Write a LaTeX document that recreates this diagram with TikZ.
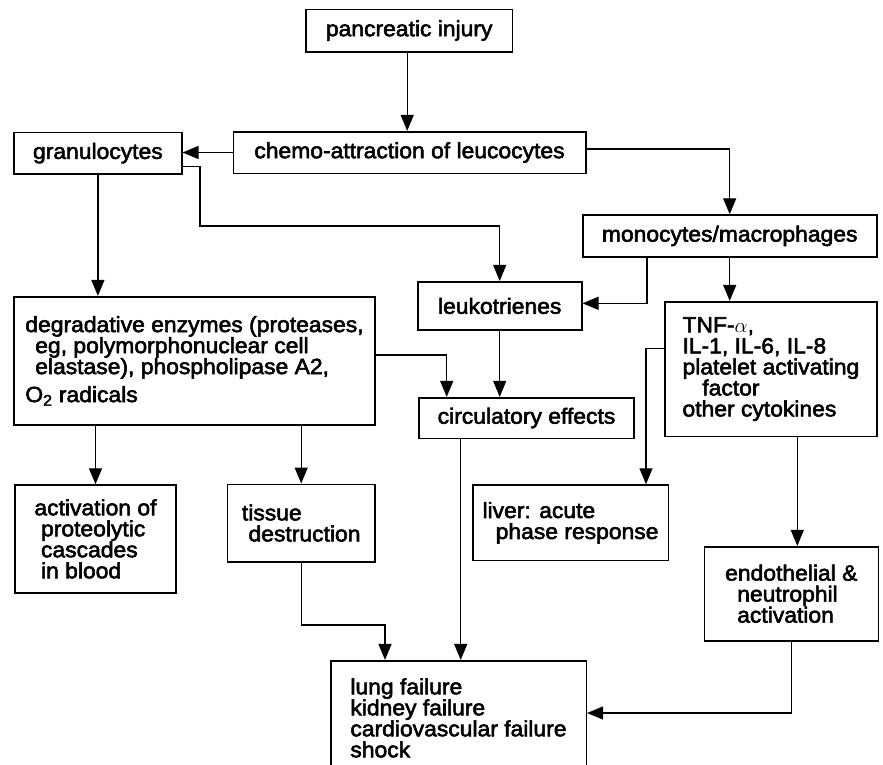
\documentclass[tikz,border=0pt]{standalone}
\usepackage{fontspec}
\setmainfont[FakeStretch=1.04,FakeBold=2.5]{Liberation Sans}
\usetikzlibrary{arrows.meta}
\begin{document}
\begin{tikzpicture}[x=1pt,y=-1pt,
  box/.style={draw, line width=1.6pt, inner sep=0pt, align=left, font=\fontsize{22}{21}\selectfont},
  conn/.style={line width=1.3pt},
  arr/.style={conn, -{Triangle[length=16pt,width=13pt]}}]
\useasboundingbox (0,0) rectangle (883,764);
\clip (0,0) rectangle (883,764);
\fill[white] (0,0) rectangle (883,764);

\node[box, minimum width=206.3pt, minimum height=42.4pt] (panc) at (409.2,30.5) {pancreatic injury};
\node[box, minimum width=352.4pt, minimum height=41.6pt] (chemo) at (409.5,152.5) {chemo-attraction of leucocytes};
\node[box, minimum width=167.7pt, minimum height=41.7pt] (gran) at (97.9,153.2) {granulocytes};
\node[box, minimum width=294pt, minimum height=41.7pt] (mono) at (729.7,235.9) {monocytes/macrophages};
\node[box, minimum width=164pt, minimum height=48.3pt] (leuk) at (499.7,305.9) {leukotrienes};
\node[box, minimum width=361pt, minimum height=128.3pt] (degr) at (194.5,360.9) {degradative enzymes (proteases,\\\hspace{0.45em}eg, polymorphonuclear cell\\\hspace{0.45em}elastase), phospholipase A2,\\[7pt]O\textsubscript{2} radicals};
\node[box, minimum width=211.7pt, minimum height=134.8pt] (tnf) at (770.9,369.1) {TNF-$\alpha$,\\IL-1, IL-6, IL-8\\platelet activating\\\hspace{0.9em}factor\\other cytokines};
\node[box, minimum width=215pt, minimum height=40.6pt] (circ) at (526.5,418) {circulatory effects};
\node[box, minimum width=161pt, minimum height=107.7pt] (act) at (95.5,538.9) {activation of\\\hspace{0.3em}proteolytic\\\hspace{0.3em}cascades\\\hspace{0.3em}in blood};
\node[box, minimum width=147.7pt, minimum height=77.4pt] (tis) at (301.2,523) {tissue\\\hspace{0.3em}destruction};
\node[box, minimum width=195.6pt, minimum height=75.5pt] (liver) at (570.5,522.8) {liver: acute\\\hspace{0.6em}phase response};
\node[box, minimum width=174pt, minimum height=94pt] (endo) at (791.3,593.7) {endothelial \&\\\hspace{0.55em}neutrophil\\\hspace{0.55em}activation};
\node[box, minimum width=255.6pt, minimum height=114.3pt] (lung) at (458.5,717.9) {lung failure\\kidney failure\\cardiovascular failure\\shock};

\coordinate (g1) at (200,226);
\coordinate (t1) at (385,625);

\draw[arr] ([xshift=-2pt]panc.south) -- ([xshift=-2pt]panc.south |- chemo.north);
\draw[arr] (chemo.west) -- (chemo.west -| gran.east);
\draw[arr] ([yshift=3.5pt]chemo.east) -| (mono.north);
\draw[arr] ([yshift=8.3pt]gran.south east) -| (g1) -| (leuk.north);
\draw[arr] (gran.south) -- (degr.north -| gran.south);
\draw[arr] ([xshift=-82.7pt]mono.south) |- ([yshift=2.6pt]leuk.east);
\draw[arr] (mono.south) -- (mono.south |- tnf.north);
\draw[arr] ([yshift=5.9pt]degr.east) -| ([xshift=-79.8pt]circ.north);
\draw[arr] (leuk.south) -- (leuk.south |- circ.north);
\draw[arr] ([yshift=20.6pt]tnf.west) -| ([xshift=75.5pt]liver.north);
\draw[arr] ([xshift=26.4pt]tnf.south) -- ([xshift=26.4pt]tnf.south |- endo.north);
\draw[arr] (degr.south -| act.north) -- (act.north);
\draw[arr] (degr.south -| tis.north) -- (tis.north);
\draw[arr] ([xshift=-65.8pt]circ.south) -- ([xshift=-65.8pt]circ.south |- lung.north);
\draw[arr] (tis.south) |- (t1) -- (t1 |- lung.north);
\draw[arr] (endo.south) |- ([yshift=4.9pt]lung.east);
\end{tikzpicture}
\end{document}
